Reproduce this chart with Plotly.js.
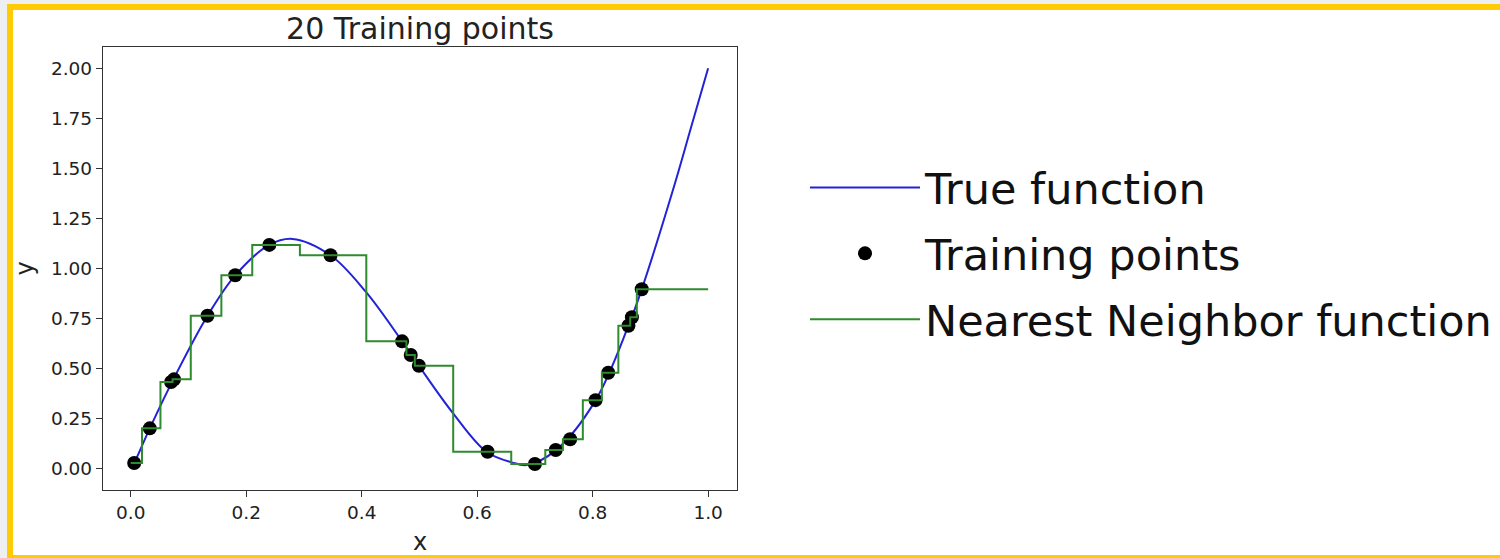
<!DOCTYPE html>
<html>
<head>
<meta charset="utf-8">
<script src="https://cdn.plot.ly/plotly-3.0.1.min.js"></script>
<style>
  html, body { margin: 0; padding: 0; width: 1500px; height: 558px; overflow: hidden; background: #eeeff1; }
  #frame { position: absolute; left: 7px; top: 4px; width: 1493px; height: 554px; box-sizing: border-box;
           border-left: 6px solid #ffcb05; border-top: 6px solid #ffcb05; border-bottom: 3px solid #ffcb05; background: #ffffff; }
  #chart { position: absolute; left: 0; top: 0; width: 1500px; height: 558px; }
</style>
</head>
<body>
<div id="frame"></div>
<div id="chart"></div>
<script>
// True function
const trueX = [0.0, 0.006, 0.033, 0.073, 0.133, 0.181, 0.240, 0.280, 0.346, 0.407, 0.470, 0.499, 0.557, 0.616, 0.660, 0.686, 0.736, 0.805, 0.862, 0.885, 0.940, 0.970, 1.0];
const trueY = [0.0, 0.027, 0.20, 0.44, 0.763, 0.965, 1.117, 1.147, 1.065, 0.883, 0.635, 0.513, 0.28, 0.083, 0.03, 0.017, 0.09, 0.34, 0.713, 0.895, 1.40, 1.70, 2.0];

// Training points (20)
const trainX = [0.006, 0.033, 0.070, 0.075, 0.133, 0.181, 0.240, 0.346, 0.470, 0.485, 0.499, 0.618, 0.700, 0.736, 0.761, 0.805, 0.827, 0.862, 0.868, 0.885];
const trainY = [0.027, 0.20, 0.432, 0.445, 0.763, 0.965, 1.117, 1.065, 0.635, 0.567, 0.513, 0.083, 0.022, 0.092, 0.146, 0.341, 0.478, 0.713, 0.755, 0.895];

const xDomain = [0.0, 1.0];
const xTickVals = [0.0, 0.2, 0.4, 0.6, 0.8, 1.0];
const xTickText = ['0.0', '0.2', '0.4', '0.6', '0.8', '1.0'];
const yTickVals = [0.0, 0.25, 0.5, 0.75, 1.0, 1.25, 1.5, 1.75, 2.0];
const yTickText = ['0.00', '0.25', '0.50', '0.75', '1.00', '1.25', '1.50', '1.75', '2.00'];

// Nearest-neighbour step function built from the training points
const nnX = [xDomain[0]].concat(trainX, [xDomain[1]]);
const nnY = [trainY[0]].concat(trainY, [trainY[trainY.length - 1]]);

const font = 'DejaVu Sans, sans-serif';

const traces = [
  { x: trueX, y: trueY, type: 'scatter', mode: 'lines', name: 'True function', legendgroup: 'a',
    line: { color: '#2323d6', width: 2, shape: 'spline', smoothing: 1 } },
  { x: trainX, y: trainY, type: 'scatter', mode: 'markers', name: 'Training points', legendgroup: 'b',
    marker: { color: '#000000', size: 14 } },
  { x: nnX, y: nnY, type: 'scatter', mode: 'lines', name: 'Nearest Neighbor function', legendgroup: 'c',
    line: { color: '#2e8b2e', width: 2, shape: 'hvh' } }
];

const axisCommon = {
  showgrid: false, zeroline: false, showline: true, mirror: true, linecolor: '#333333', linewidth: 1.2,
  ticks: 'outside', ticklen: 6, tickwidth: 1.2, tickcolor: '#333333',
  tickfont: { family: font, size: 18.5, color: '#222222' }
};

const layout = {
  width: 1500, height: 558,
  paper_bgcolor: 'rgba(0,0,0,0)', plot_bgcolor: '#ffffff',
  margin: { l: 103, r: 763, t: 47, b: 68 },
  title: { text: '20 Training points', font: { family: font, size: 30, color: '#222222' },
           x: 0.5, xref: 'paper', y: 1 - 28 / 558, yref: 'container', yanchor: 'middle' },
  xaxis: Object.assign({}, axisCommon, {
    range: [-0.048, 1.05], tickvals: xTickVals, ticktext: xTickText,
    title: { text: 'x', font: { family: font, size: 24, color: '#222222' }, standoff: 10 }
  }),
  yaxis: Object.assign({}, axisCommon, {
    range: [-0.108, 2.106], tickvals: yTickVals, ticktext: yTickText,
    title: { text: 'y', font: { family: font, size: 24, color: '#222222' }, standoff: 10 }
  }),
  showlegend: true,
  legend: {
    xref: 'container', yref: 'container', x: 805 / 1500, xanchor: 'left', y: 1 - 253.5 / 558, yanchor: 'middle',
    font: { family: font, size: 43, color: '#111111' }, bgcolor: 'rgba(0,0,0,0)', borderwidth: 0,
    itemwidth: 110, tracegroupgap: 7, traceorder: 'grouped'
  }
};

Plotly.newPlot('chart', traces, layout, { displayModeBar: false, staticPlot: true });
</script>
</body>
</html>
